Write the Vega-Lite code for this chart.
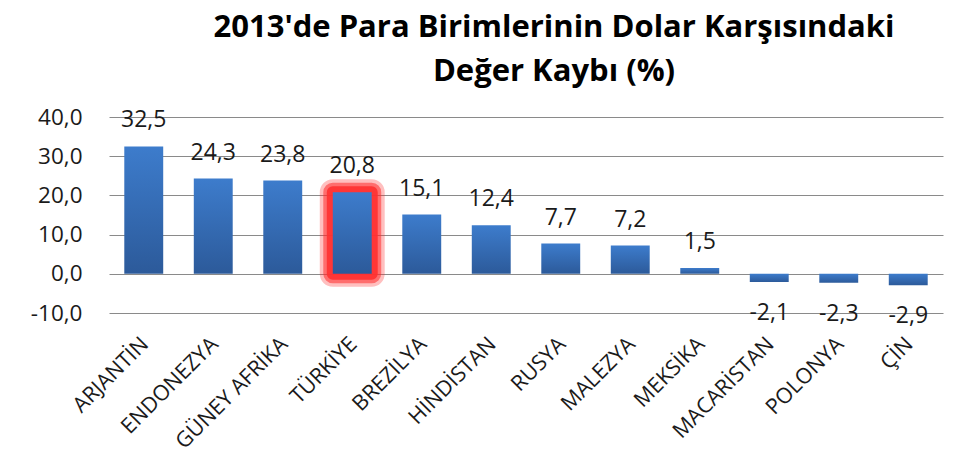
{
  "$schema": "https://vega.github.io/schema/vega-lite/v6.json",
  "autosize": "none",
  "width": 834,
  "height": 196,
  "padding": {"left": 109, "top": 117, "right": 23, "bottom": 159},
  "background": "white",
  "title": {
    "text": ["2013'de Para Birimlerinin Dolar Karşısındaki", "Değer Kaybı (%)"],
    "font": "Open Sans",
    "fontSize": 31,
    "fontWeight": "bold",
    "color": "#000000",
    "lineHeight": 44,
    "anchor": "middle",
    "dx": 28,
    "offset": 18
  },
  "data": {
    "values": [
      {"ulke": "ARJANTİN", "deger": 32.5},
      {"ulke": "ENDONEZYA", "deger": 24.3},
      {"ulke": "GÜNEY AFRİKA", "deger": 23.8},
      {"ulke": "TÜRKİYE", "deger": 20.8},
      {"ulke": "BREZİLYA", "deger": 15.1},
      {"ulke": "HİNDİSTAN", "deger": 12.4},
      {"ulke": "RUSYA", "deger": 7.7},
      {"ulke": "MALEZYA", "deger": 7.2},
      {"ulke": "MEKSİKA", "deger": 1.5},
      {"ulke": "MACARİSTAN", "deger": -2.1},
      {"ulke": "POLONYA", "deger": -2.3},
      {"ulke": "ÇİN", "deger": -2.9}
    ]
  },
  "encoding": {
    "x": {
      "field": "ulke",
      "type": "nominal",
      "sort": ["ARJANTİN", "ENDONEZYA", "GÜNEY AFRİKA", "TÜRKİYE", "BREZİLYA", "HİNDİSTAN", "RUSYA", "MALEZYA", "MEKSİKA", "MACARİSTAN", "POLONYA", "ÇİN"],
      "scale": {"paddingInner": 0.44, "paddingOuter": 0.22},
      "axis": {
        "title": null,
        "labelAngle": -45,
        "labelAlign": "right",
        "labelBaseline": "top",
        "labelPadding": 20,
        "labelOffset": -6,
        "labelFont": "Open Sans",
        "labelFontSize": 21.5,
        "labelColor": "#1a1a1a",
        "ticks": false,
        "domain": false,
        "grid": false
      }
    },
    "y": {
      "field": "deger",
      "type": "quantitative",
      "scale": {"domain": [-10, 40], "nice": false},
      "axis": {
        "title": null,
        "values": [-10, 0, 10, 20, 30, 40],
        "format": ".1f",
        "labelFont": "Open Sans",
        "labelFontSize": 22.5,
        "labelColor": "#1a1a1a",
        "labelPadding": 27,
        "ticks": false,
        "domain": false,
        "grid": true,
        "gridColor": "#8a8a8a",
        "gridWidth": 1
      }
    }
  },
  "layer": [
    {
      "transform": [{"filter": "datum.ulke === 'TÜRKİYE'"}],
      "mark": {"type": "bar", "fill": null, "stroke": "#ff2a2a", "strokeWidth": 26, "strokeOpacity": 0.3, "strokeJoin": "round"}
    },
    {
      "transform": [{"filter": "datum.ulke === 'TÜRKİYE'"}],
      "mark": {"type": "bar", "fill": null, "stroke": "#ff2a2a", "strokeWidth": 19, "strokeOpacity": 0.55, "strokeJoin": "round"}
    },
    {
      "transform": [{"filter": "datum.ulke === 'TÜRKİYE'"}],
      "mark": {"type": "bar", "fill": null, "stroke": "#ff3030", "strokeWidth": 12, "strokeOpacity": 0.9, "strokeJoin": "round"}
    },
    {
      "mark": {
        "type": "bar",
        "color": {
          "gradient": "linear",
          "x1": 0, "y1": 0, "x2": 0, "y2": 1,
          "stops": [
            {"offset": 0, "color": "#3d7ccc"},
            {"offset": 1, "color": "#2c5a9a"}
          ]
        }
      }
    },
    {
      "transform": [{"filter": "datum.deger >= 0"}],
      "mark": {"type": "text", "baseline": "alphabetic", "dy": -19, "font": "Open Sans", "fontSize": 23, "color": "#1a1a1a"},
      "encoding": {"text": {"field": "deger", "type": "quantitative", "format": ".1f"}}
    },
    {
      "transform": [{"filter": "datum.deger < 0"}],
      "mark": {"type": "text", "baseline": "alphabetic", "dy": 38, "font": "Open Sans", "fontSize": 23, "color": "#1a1a1a"},
      "encoding": {"text": {"field": "deger", "type": "quantitative", "format": ".1f"}}
    }
  ],
  "config": {
    "view": {"stroke": null},
    "locale": {"number": {"decimal": ",", "thousands": ".", "grouping": [3], "currency": ["", " TL"], "minus": "-"}}
  }
}
